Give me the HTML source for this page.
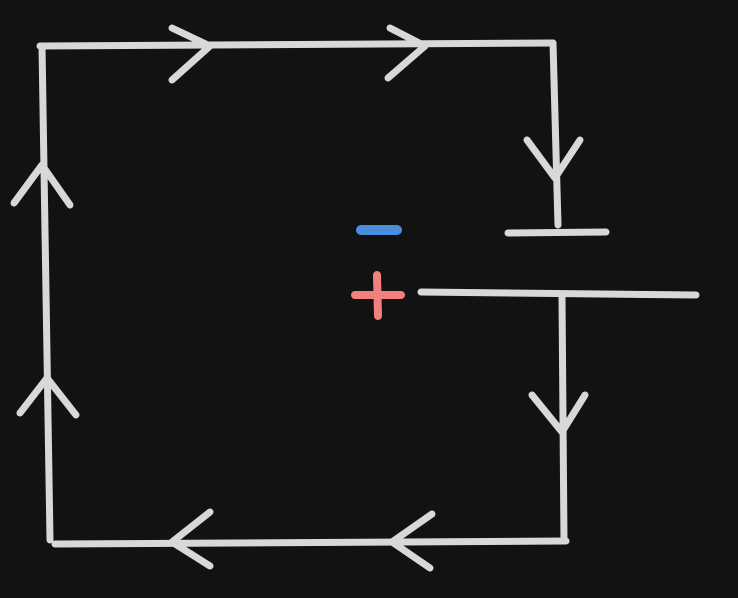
<!DOCTYPE html>
<html><head><style>html,body{margin:0;padding:0;background:#121212;}svg{display:block}</style></head>
<body>
<svg width="738" height="598" viewBox="0 0 738 598" xmlns="http://www.w3.org/2000/svg">
<rect width="738" height="598" fill="#121212"/>
<g stroke="#d8d8d8" stroke-width="7" stroke-linecap="round" stroke-linejoin="round" fill="none">
<path d="M40 46 L553 43"/>
<path d="M553 43 L558 225"/>
<path d="M508 233 L606 232"/>
<path d="M421 292 L696 295"/>
<path d="M562 297 L564 541"/>
<path d="M55 544 L566 541"/>
<path d="M42 46 L50 540"/>
<path d="M172 28 L210 46 L172 80"/>
<path d="M390 28 L425 46 L388 78"/>
<path d="M527 140 L555 178 L580 140"/>
<path d="M532 395 L562 432 L585 395"/>
<path d="M210 512 L172 542 L210 566"/>
<path d="M432 514 L392 542 L430 568"/>
<path d="M14 203 L42 165 L70 205"/>
<path d="M20 413 L47 378 L76 415"/>
</g>
<path d="M361 230 L397 230" stroke="#4a8fdc" stroke-width="10" stroke-linecap="round"/>
<g stroke="#f47f7f" stroke-width="8" stroke-linecap="round">
<path d="M355 295 L401 295"/>
<path d="M377 275 L378 316"/>
</g>
</svg>
</body></html>
